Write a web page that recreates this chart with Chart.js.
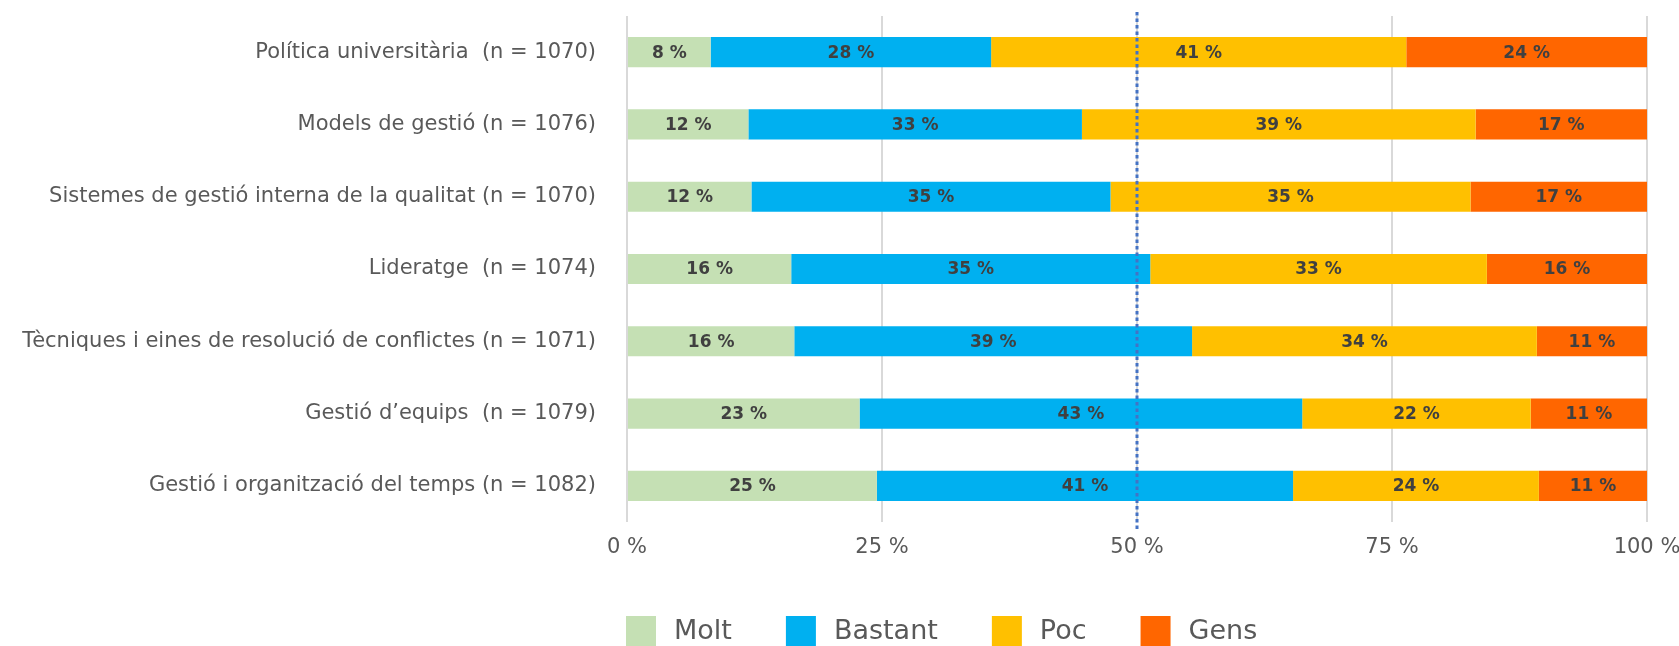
<!DOCTYPE html>
<html>
<head>
<meta charset="utf-8">
<script src="https://cdn.jsdelivr.net/npm/chart.js@4"></script>
<style>
    html, body { margin: 0; padding: 0; background: #fff; }
    #wrap { width: 1679px; height: 646px; position: relative; }
</style>
</head>
<body>
<div id="wrap"><canvas id="chart"></canvas></div>
<script>
// Chart Data
const categories = [
    'Política universitària  (n = 1070)',
    'Models de gestió (n = 1076)',
    'Sistemes de gestió interna de la qualitat (n = 1070)',
    'Lideratge  (n = 1074)',
    'Tècniques i eines de resolució de conflictes (n = 1071)',
    'Gestió d\u2019equips  (n = 1079)',
    'Gestió i organització del temps (n = 1082)'
];

const molt    = [8.2, 11.9, 12.2, 16.1, 16.4, 22.8, 24.5];
const bastant = [27.5, 32.7, 35.2, 35.2, 39.0, 43.4, 40.8];
const poc     = [40.7, 38.6, 35.3, 33.0, 33.8, 22.4, 24.1];
const gens    = [23.6, 16.8, 17.3, 15.7, 10.8, 11.4, 10.6];

const xTicks = [0, 25, 50, 75, 100];

const FONT = '"DejaVu Sans", sans-serif';
Chart.defaults.font.family = FONT;

// labels inside each bar segment
const segmentLabels = {
    id: 'segmentLabels',
    afterDatasetsDraw(chart) {
        const ctx = chart.ctx;
        ctx.save();
        ctx.font = 'bold 17px ' + FONT;
        ctx.fillStyle = '#404040';
        ctx.textAlign = 'center';
        ctx.textBaseline = 'middle';
        chart.data.datasets.forEach((ds, i) => {
            chart.getDatasetMeta(i).data.forEach((bar, j) => {
                const x = (bar.x + bar.base) / 2;
                ctx.fillText(Math.round(ds.data[j]) + ' %', x, bar.y + 1);
            });
        });
        ctx.restore();
    }
};

// dotted 50 % line
const midLine = {
    id: 'midLine',
    afterDatasetsDraw(chart) {
        const ctx = chart.ctx;
        const x = chart.scales.x.getPixelForValue(50);
        ctx.save();
        ctx.strokeStyle = '#4472C4';
        ctx.lineWidth = 3;
        ctx.setLineDash([3.5, 3]);
        ctx.beginPath();
        ctx.moveTo(x, chart.chartArea.top - 4);
        ctx.lineTo(x, chart.chartArea.bottom + 10);
        ctx.stroke();
        ctx.restore();
    }
};

// bottom legend
const bottomLegend = {
    id: 'bottomLegend',
    afterDraw(chart) {
        const ctx = chart.ctx;
        ctx.save();
        ctx.font = '27px ' + FONT;
        ctx.textBaseline = 'middle';
        let x = 626;
        const y = 631;
        chart.data.datasets.forEach(ds => {
            ctx.fillStyle = ds.backgroundColor;
            ctx.fillRect(x, y - 15, 30, 30);
            x += 48;
            ctx.fillStyle = '#595959';
            ctx.fillText(ds.label, x, y + 1);
            x += ctx.measureText(ds.label).width + 54;
        });
        ctx.restore();
    }
};

new Chart(document.getElementById('chart'), {
    type: 'bar',
    data: {
        labels: categories,
        datasets: [
            { label: 'Molt', data: molt, backgroundColor: '#C5E0B4' },
            { label: 'Bastant', data: bastant, backgroundColor: '#00B0F0' },
            { label: 'Poc', data: poc, backgroundColor: '#FFC000' },
            { label: 'Gens', data: gens, backgroundColor: '#FF6600' }
        ]
    },
    options: {
        indexAxis: 'y',
        responsive: true,
        maintainAspectRatio: false,
        animation: false,
        datasets: { bar: { categoryPercentage: 1, barPercentage: 0.417 } },
        layout: { padding: { top: 16, right: 32, left: 0, bottom: 0 } },
        plugins: {
            legend: { display: false },
            tooltip: { enabled: false }
        },
        scales: {
            x: {
                stacked: true,
                min: 0,
                max: 100,
                afterBuildTicks: s => { s.ticks = xTicks.map(v => ({ value: v })); },
                afterFit: s => { s.height = 124; s.paddingLeft = 0; s.paddingRight = 0; },
                grid: { color: '#D9D9D9', lineWidth: 2, drawTicks: false },
                border: { display: false },
                ticks: {
                    padding: 13,
                    color: '#595959',
                    font: { size: 21 },
                    callback: v => v + ' %'
                }
            },
            y: {
                stacked: true,
                afterFit: s => { s.width = 627; s.paddingTop = 0; s.paddingBottom = 0; },
                grid: { display: false, drawTicks: false },
                border: { display: false },
                ticks: {
                    padding: 31,
                    color: '#595959',
                    font: { size: 21 }
                }
            }
        }
    },
    plugins: [segmentLabels, midLine, bottomLegend]
});
</script>
</body>
</html>
